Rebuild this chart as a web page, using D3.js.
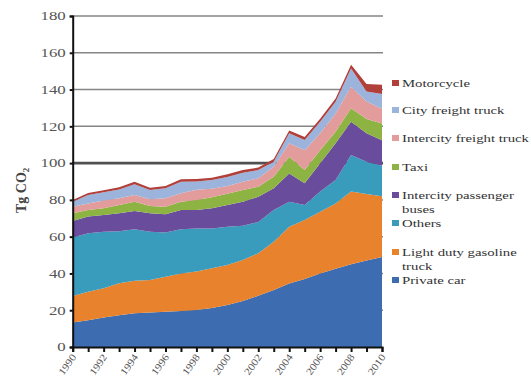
<!DOCTYPE html>
<html><head><meta charset="utf-8">
<script src="https://cdn.jsdelivr.net/npm/d3@7"></script>
<style>html,body{margin:0;padding:0;background:#fff;}svg{display:block;}</style>
</head><body>
<svg id="chart" width="531" height="386"></svg>
<script>
const years = d3.range(1990, 2011);
const seriesNames = ["Private car","Light duty gasoline truck","Others","Intercity passenger buses","Taxi","Intercity freight truck","City freight truck","Motorcycle"];
const privateCar   = [13.3,14.5,16,17.2,18.3,18.8,19.2,19.6,20.1,21.2,22.8,25,27.9,31,34.5,37,40,42.5,45,47,49];
const lightTruck   = [14.4,15.5,15.9,17.4,17.7,17.6,19,20.4,20.9,21.6,21.8,22.3,23.1,26.3,30.9,32,33.6,35.5,39.5,36.2,33];
const others       = [31.8,31.8,30.8,28.4,28,26.3,24,24,23.5,21.7,20.8,18.7,17,17.2,13.6,8.2,10.9,12.8,19.9,17.6,16.5];
const buses        = [9,9.1,9.1,9.7,10,10,10,10.5,10,10.9,11.8,13,13.7,11.8,15.4,11.8,15.4,20,18.1,15.4,14];
const taxi         = [4.2,3.6,3.6,4.5,5,4,4.1,4.5,5.5,6,6.2,6.4,5.5,6.3,9.1,7.2,7.1,6.2,7.3,7.8,9.1];
const interFreight = [3.6,3.5,4.2,3.7,3.6,3.6,4.6,4.6,5.5,4.6,4.2,4.5,4.5,5.4,7.3,10.8,9.2,10,11.7,9.5,8];
const cityFreight  = [2.7,4.6,4.5,4.8,5.9,5.1,5.4,6.3,4.5,4.8,4.9,4.9,4.5,2.8,5.4,5.6,6.3,6.4,10,5.5,8];
const motorcycle   = [1,1.2,1.2,1.2,1.3,1.2,1.2,1.3,1.3,1.3,1.4,1.4,1.4,1.5,1.6,1.6,1.6,1.8,2,4,5];
const yTicks = [0,20,40,60,80,100,120,140,160,180];
const xLabelYears = [1990,1992,1994,1996,1998,2000,2002,2004,2006,2008,2010];
const colors = ["#3d6db0","#e8822c","#3a9cbc","#6a4c9c","#8db443","#e39c9c","#9cb3dc","#b13f3a"];
const legendLabels = [["Motorcycle"],["City freight truck"],["Intercity freight truck"],["Taxi"],["Intercity passenger","buses"],["Others"],["Light duty gasoline","truck"],["Private car"]];

const seriesArrays = [privateCar, lightTruck, others, buses, taxi, interFreight, cityFreight, motorcycle];
const table = years.map((y, i) => {
  const row = {year: y};
  seriesNames.forEach((n, k) => row[n] = seriesArrays[k][i]);
  return row;
});

const svg = d3.select("#chart");
const FONT = "'Liberation Serif', 'Times New Roman', serif";
function stretchBy(f) {
  return sel => sel.each(function() {
    const L = this.getComputedTextLength();
    d3.select(this).attr("textLength", L * f).attr("lengthAdjust", "spacingAndGlyphs");
  });
}

const x = d3.scaleLinear().domain([1990, 2010]).range([72.7, 382]);
const y = d3.scaleLinear().domain([0, 180]).range([347, 16]);

// gridlines
svg.append("g").selectAll("line").data(yTicks.filter(t => t > 0)).join("line")
  .attr("x1", 72).attr("x2", 383)
  .attr("y1", d => y(d)).attr("y2", d => y(d))
  .attr("stroke", d => d === 100 ? "#505050" : "#858585")
  .attr("stroke-width", d => d === 100 ? 2.6 : 1.5);

const stack = d3.stack().keys(seriesNames);
const layers = stack(table);
const area = d3.area().x(d => x(d.data.year)).y0(d => y(d[0])).y1(d => y(d[1]));
svg.append("g").selectAll("path").data(layers).join("path")
  .attr("d", area).attr("fill", (d, i) => colors[i]);

// axes
const yAxis = svg.append("g").attr("transform", "translate(72.7,0)")
  .call(d3.axisLeft(y).tickValues(yTicks).tickSize(3).tickPadding(4).tickFormat(d3.format("d")));
yAxis.select(".domain").attr("stroke", "#111").attr("stroke-width", 2);
yAxis.selectAll(".tick line").attr("stroke", "#111").attr("stroke-width", 2);
yAxis.selectAll("text").attr("font-family", FONT).attr("font-size", 12).attr("fill", "#555").call(stretchBy(1.4));

const xAxis = svg.append("g").attr("transform", "translate(0,347)")
  .call(d3.axisBottom(x).tickValues(years).tickSize(5).tickFormat(""));
xAxis.select(".domain").attr("stroke", "#111").attr("stroke-width", 2);
xAxis.selectAll(".tick line").attr("stroke", "#111").attr("stroke-width", 2);

svg.append("g").selectAll("text").data(xLabelYears).join("text")
  .attr("transform", d => `translate(${x(d) + 4},${357}) rotate(-55)`)
  .attr("text-anchor", "end")
  .attr("font-family", FONT).attr("font-size", 10).attr("fill", "#555")
  .text(d => d).call(stretchBy(1.15));

// y title
const yt = svg.append("text")
  .attr("transform", "translate(26,213) rotate(-90)")
  .attr("font-family", FONT).attr("font-size", 14).attr("font-weight", "bold").attr("fill", "#444");
yt.append("tspan").text("Tg CO");
yt.append("tspan").attr("font-size", 9).attr("dy", 3).text("2");

// legend
const legendY = [83, 110, 138, 167, 195, 223, 252, 280];
const lg = svg.append("g");
const probe = lg.append("text").attr("font-family", FONT).attr("font-size", 11).text("Intercity freight truck");
const legendStretch = 127 / probe.node().getComputedTextLength();
probe.remove();
legendLabels.forEach((lines, i) => {
  const ci = colors.length - 1 - i;
  lg.append("rect").attr("x", 392).attr("y", legendY[i] - 3).attr("width", 7).attr("height", 6).attr("fill", colors[ci]);
  lines.forEach((t, j) => {
    lg.append("text").attr("x", 402).attr("y", legendY[i] + 3.5 + j * 14.5)
      .attr("font-family", FONT).attr("font-size", 11).attr("fill", "#333").text(t).call(stretchBy(legendStretch));
  });
});
</script>
</body></html>
